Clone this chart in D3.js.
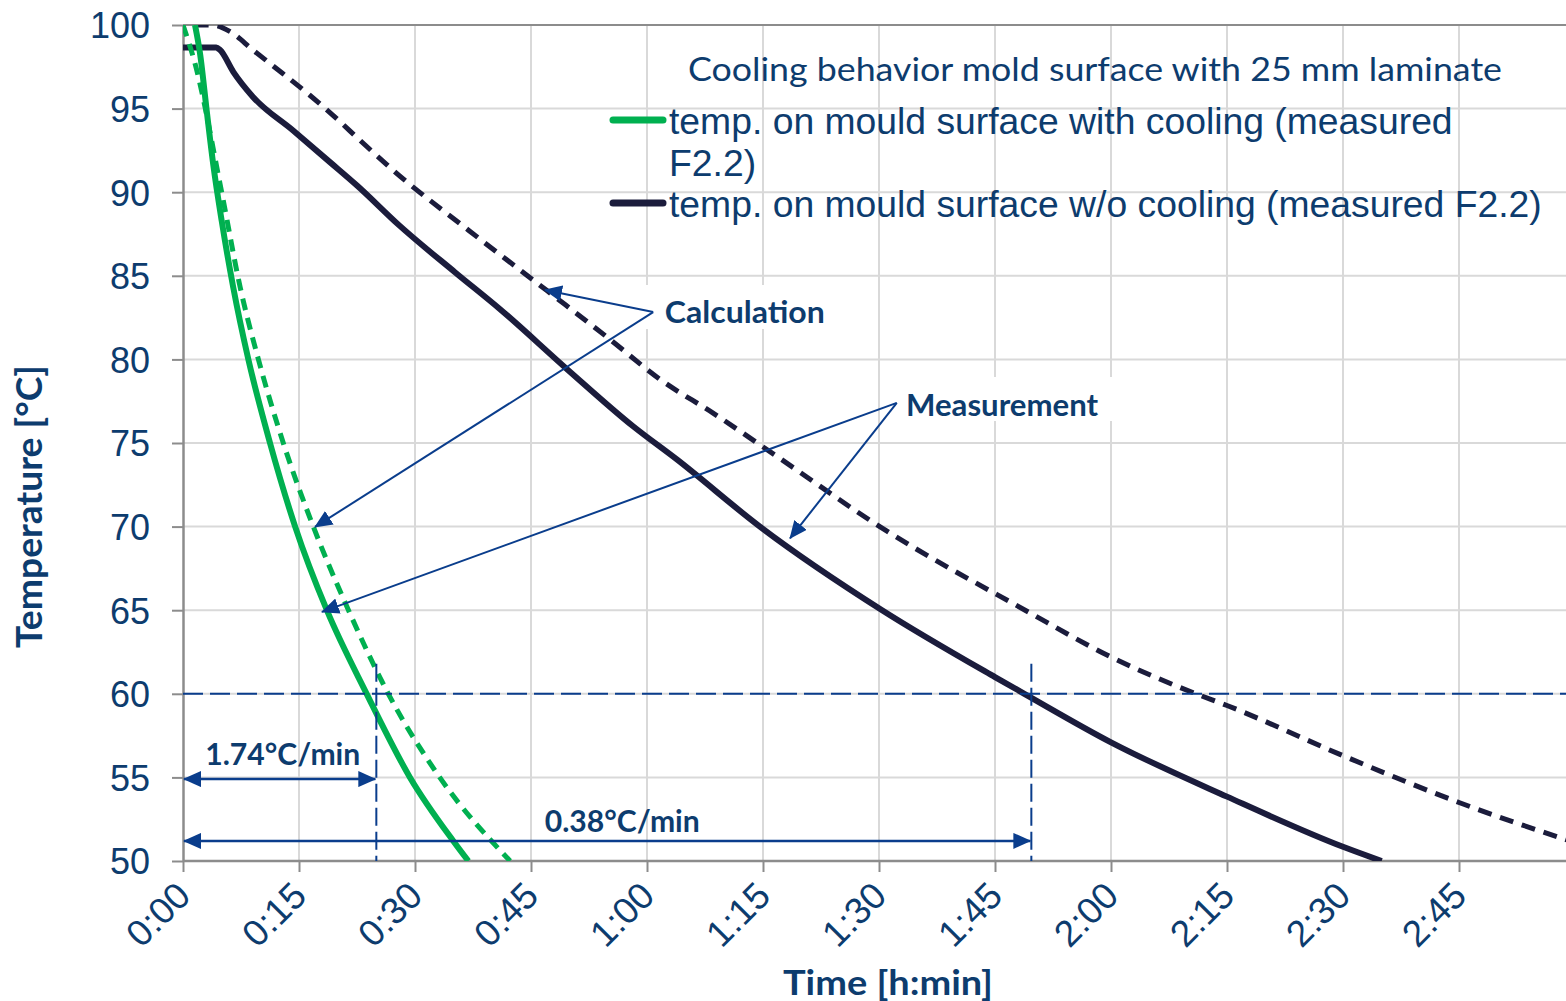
<!DOCTYPE html>
<html><head><meta charset="utf-8">
<script src="https://cdn.jsdelivr.net/npm/d3@7"></script>
<style>body{margin:0;background:#fff;overflow:hidden}</style>
</head><body>
<svg id="c" width="1566" height="1001"></svg>
<script>
// ---------- data ----------
const xTickMinutes = [0, 15, 30, 45, 60, 75, 90, 105, 120, 135, 150, 165];
const xTickLabels = ["0:00","0:15","0:30","0:45","1:00","1:15","1:30","1:45","2:00","2:15","2:30","2:45"];
const yTickValues = [50, 55, 60, 65, 70, 75, 80, 85, 90, 95, 100];

// measured with cooling (green solid)
const greenMeasT = [1.55, 2.2, 3.06, 3.9, 5.0, 6.5, 8.45, 11.25, 14.5, 18.6, 23.75, 29.35, 34.95, 36.9];
const greenMeasV = [100, 98.3, 94.9, 91.7, 88.3, 84.3, 80, 75, 70, 65, 60, 55, 51.2, 50];
// calculation with cooling (green dashed)
const greenCalcT = [0, 1.55, 5.0, 7.4, 9.75, 12.97, 16.85, 21.4, 26.55, 33.2, 42.3];
const greenCalcV = [100, 97.7, 90, 84.3, 80, 75, 70, 65, 60, 55, 50];
// measured w/o cooling (navy solid)
const navyMeasT = [0, 4.3, 4.8, 6.5, 9.05, 14.2, 19, 22.5, 28, 35.2, 41, 49.7, 58.2, 63.9, 74.6, 90.4, 105, 108.8, 120, 135, 150, 155];
const navyMeasV = [98.65, 98.65, 98.5, 97.2, 95.7, 93.7, 91.8, 90.4, 88.0, 85.2, 83, 79.4, 76, 74, 70, 65, 61, 60, 57.1, 53.85, 50.85, 50];
// calculation w/o cooling (navy dashed)
const navyCalcT = [1.5, 3.8, 6.1, 9.05, 12.9, 16.4, 19.4, 22.9, 27.2, 37, 47.1, 55.2, 61.7, 68.5, 76.8, 90.1, 108.9, 120, 131, 135, 150, 165, 180];
const navyCalcV = [100, 100, 99.6, 98.5, 97.1, 95.8, 94.6, 93.1, 91.3, 87.7, 84.1, 81.2, 78.8, 76.8, 74.2, 70, 65, 62.2, 60, 59.3, 56.3, 53.5, 51.1];

const legendLabels = ["temp. on mould surface with cooling (measured", "F2.2)", "temp. on mould surface w/o cooling (measured F2.2)"];
const titleText = "Cooling behavior mold surface with 25 mm laminate";

// annotations (data coordinates: minutes, °C)
const refTemp = 60;
const rateTimes = [25, 109.7];
const rateLabels = ["1.74°C/min", "0.38°C/min"];
const calcOrigin = [60.8, 82.83], calcTips = [[46.8, 84.15], [17.07, 69.98]];
const measOrigin = [92.3, 77.4], measTips = [[17.97, 64.9], [78.5, 69.3]];

// ---------- layout ----------
const svg = d3.select("#c");
const W = 1566, H = 1001;
const x = d3.scaleLinear().domain([0, 180]).range([183, 1575]);
const y = d3.scaleLinear().domain([50, 100]).range([861, 25]);
const txt = "#0d3c6e", annBlue = "#0a3d8c", green = "#00b050", navy = "#1b1c3c";

const defs = svg.append("defs");
defs.append("clipPath").attr("id", "plot")
  .append("rect").attr("x", 183).attr("y", 25).attr("width", W - 183).attr("height", 836);
defs.append("marker").attr("id", "arr").attr("markerUnits", "userSpaceOnUse")
  .attr("viewBox", "0 0 18 16").attr("refX", 17).attr("refY", 8)
  .attr("markerWidth", 18).attr("markerHeight", 16).attr("orient", "auto-start-reverse")
  .append("path").attr("d", "M0,0 L18,8 L0,16 Z").attr("fill", annBlue);

// grid
const grid = svg.append("g");
grid.selectAll(".vg").data(xTickMinutes.slice(1)).join("line")
  .attr("x1", d => x(d)).attr("x2", d => x(d)).attr("y1", y(100)).attr("y2", y(50))
  .attr("stroke", "#d9d9d9").attr("stroke-width", 2);
grid.selectAll(".hg").data(yTickValues.filter(v => v > 50 && v < 100)).join("line")
  .attr("x1", x(0)).attr("x2", W).attr("y1", d => y(d)).attr("y2", d => y(d))
  .attr("stroke", "#d9d9d9").attr("stroke-width", 2);
grid.append("line").attr("x1", x(0)).attr("x2", W).attr("y1", y(100)).attr("y2", y(100))
  .attr("stroke", "#8c8c8c").attr("stroke-width", 2);

// axes
const yAxis = svg.append("g").attr("transform", `translate(${x(0)},0)`)
  .call(d3.axisLeft(y).tickValues(yTickValues).tickSize(11).tickPadding(22).tickSizeOuter(0));
const xAxis = svg.append("g").attr("transform", `translate(0,${y(50)})`)
  .call(d3.axisBottom(x).tickValues(xTickMinutes).tickFormat((d, i) => xTickLabels[i]).tickSize(11).tickSizeOuter(0));
[yAxis, xAxis].forEach(a => {
  a.select(".domain").attr("stroke", "#8c8c8c").attr("stroke-width", 2.5);
  a.selectAll(".tick line").attr("stroke", "#8c8c8c").attr("stroke-width", 2);
  a.selectAll("text").attr("fill", txt).style("font-family", "'Liberation Sans', Arial, sans-serif").style("font-size", "36px");
});
xAxis.select(".domain").attr("d", `M${x(0)},0H${W}`);
xAxis.selectAll(".tick text").style("font-size", "37px").attr("text-anchor", "end").attr("y", 0).attr("dy", 0)
  .attr("transform", "translate(9,37) rotate(-45)");
yAxis.selectAll(".tick text").attr("dy", "0.36em");

// lines
const plot = svg.append("g").attr("clip-path", "url(#plot)");
const line = d3.line().x(d => x(d[0])).y(d => y(d[1]));
const smooth = d3.line().curve(d3.curveMonotoneX).x(d => x(d[0])).y(d => y(d[1]));
const zip = (a, b) => a.map((t, i) => [t, b[i]]);
plot.append("path").datum(zip(navyCalcT, navyCalcV)).attr("d", smooth).attr("fill", "none")
  .attr("stroke", navy).attr("stroke-width", 5).attr("stroke-dasharray", "14,9");
plot.append("path").datum(zip(navyMeasT, navyMeasV)).attr("d", smooth).attr("fill", "none")
  .attr("stroke", navy).attr("stroke-width", 6).attr("stroke-linejoin", "round");
plot.append("path").datum(zip(greenCalcT, greenCalcV)).attr("d", smooth)
  .attr("fill", "none").attr("stroke", green).attr("stroke-width", 5).attr("stroke-dasharray", "12,8");
plot.append("path").datum(zip(greenMeasT, greenMeasV)).attr("d", smooth)
  .attr("fill", "none").attr("stroke", green).attr("stroke-width", 6);

// reference dashed lines
const ann = svg.append("g");
ann.append("line").attr("x1", x(0)).attr("x2", W).attr("y1", y(refTemp)).attr("y2", y(refTemp))
  .attr("stroke", annBlue).attr("stroke-width", 2).attr("stroke-dasharray", "20,7");
rateTimes.forEach(t => {
  ann.append("line").attr("x1", x(t)).attr("x2", x(t)).attr("y1", y(61.8)).attr("y2", y(50))
    .attr("stroke", annBlue).attr("stroke-width", 2).attr("stroke-dasharray", "18,6");
});
// rate arrows
const rateY = [54.9, 51.2];
rateTimes.forEach((t, i) => {
  ann.append("line").attr("x1", x(0) + 1).attr("x2", x(t) - 1).attr("y1", y(rateY[i])).attr("y2", y(rateY[i]))
    .attr("stroke", annBlue).attr("stroke-width", 2.5)
    .attr("marker-start", "url(#arr)").attr("marker-end", "url(#arr)");
});
const boldFont = "Lato, 'Open Sans', sans-serif";
const rateLabelPos = [[12.9, 55.75], [56.8, 51.75]];
rateLabels.forEach((s, i) => {
  ann.append("text").attr("x", x(rateLabelPos[i][0])).attr("y", y(rateLabelPos[i][1]))
    .attr("text-anchor", "middle").attr("fill", txt)
    .style("font-family", boldFont).style("font-weight", 700).style("font-size", "30px")
    .attr("textLength", 155).attr("lengthAdjust", "spacingAndGlyphs").text(s);
});

// callouts
ann.append("rect").attr("x", x(59.4)).attr("y", 285).attr("width", 234).attr("height", 44).attr("fill", "#fff");
ann.append("rect").attr("x", x(90.4)).attr("y", 377).attr("width", 232).attr("height", 44).attr("fill", "#fff");
[[calcOrigin, calcTips], [measOrigin, measTips]].forEach(([o, tips]) => {
  tips.forEach(tp => {
    ann.append("line").attr("x1", x(o[0])).attr("y1", y(o[1])).attr("x2", x(tp[0])).attr("y2", y(tp[1]))
      .attr("stroke", annBlue).attr("stroke-width", 2).attr("marker-end", "url(#arr)");
  });
});
ann.append("text").attr("x", x(62.3)).attr("y", y(82.15)).attr("fill", txt)
  .style("font-family", boldFont).style("font-weight", 700).style("font-size", "30px")
  .attr("textLength", 160).attr("lengthAdjust", "spacingAndGlyphs").text("Calculation");
ann.append("text").attr("x", x(93.5)).attr("y", y(76.6)).attr("fill", txt)
  .style("font-family", boldFont).style("font-weight", 700).style("font-size", "30px")
  .attr("textLength", 192).attr("lengthAdjust", "spacingAndGlyphs").text("Measurement");

// legend
const lg = svg.append("g");
lg.append("text").attr("x", 688).attr("y", 81).attr("fill", txt)
  .style("font-family", "Lato, sans-serif").style("font-size", "32px")
  .attr("textLength", 814).attr("lengthAdjust", "spacingAndGlyphs").text(titleText);
[[green, 120], [navy, 203]].forEach(([c, yy]) => {
  lg.append("line").attr("x1", 613).attr("x2", 663).attr("y1", yy).attr("y2", yy)
    .attr("stroke", c).attr("stroke-width", 7).attr("stroke-linecap", "round");
});
const legY = [134, 176, 217];
legendLabels.forEach((s, i) => {
  lg.append("text").attr("x", 669).attr("y", legY[i]).attr("fill", txt)
    .style("font-family", "'Liberation Sans', Arial, sans-serif").style("font-size", "37.3px").text(s);
});

// axis titles
svg.append("text").attr("transform", "translate(42,506.5) rotate(-90)").attr("text-anchor", "middle")
  .attr("fill", txt).style("font-family", boldFont).style("font-weight", 700).style("font-size", "36px")
  .attr("textLength", 283).attr("lengthAdjust", "spacingAndGlyphs").text("Temperature [°C]");
svg.append("text").attr("x", 888).attr("y", 995).attr("text-anchor", "middle")
  .attr("fill", txt).style("font-family", boldFont).style("font-weight", 700).style("font-size", "35px")
  .attr("textLength", 210).attr("lengthAdjust", "spacingAndGlyphs").text("Time [h:min]");
</script>
</body></html>
